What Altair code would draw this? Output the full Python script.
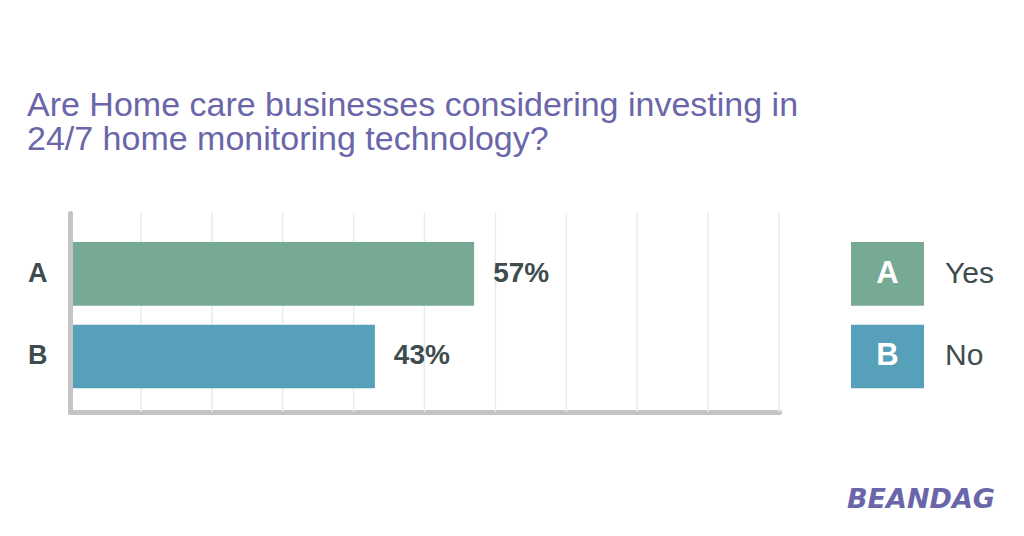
import altair as alt
import pandas as pd

# ---- data ----
categories = ["A", "B"]
answers = ["Yes", "No"]
values = [57, 43]
value_labels = ["57%", "43%"]
bar_colors = ["#76aa94", "#56a0ba"]
grid_ticks = [10, 20, 30, 40, 50, 60, 70, 80, 90, 100]
title_lines = [
    "Are Home care businesses considering investing in",
    "24/7 home monitoring technology?",
]
logo_text = ["BEANDAG"]

TEXT = "#3e4c4e"
PURPLE = "#6a66a9"
AXIS = "#c4c4c4"
GRID = "#e6ebf0"
FONT = "Liberation Sans"

df = pd.DataFrame({
    "category": categories,
    "answer": answers,
    "value": values,
    "label": value_labels,
})
grid_df = pd.DataFrame({"value": grid_ticks})
logo_df = pd.DataFrame({"logo": logo_text})

x_enc = alt.X(
    "value:Q",
    scale=alt.Scale(domain=[0, 100], nice=False),
    axis=alt.Axis(
        title=None, labels=False, ticks=False, grid=False,
        domainColor=AXIS, domainWidth=5, domainCap="round",
    ),
)
y_enc = alt.Y(
    "category:N",
    sort=categories,
    scale=alt.Scale(paddingInner=0.23, paddingOuter=0.32, align=0.55),
    axis=alt.Axis(
        title=None, labelFontSize=27, labelFont=FONT, labelFontWeight="bold",
        labelColor=TEXT, ticks=False, tickSize=0, labelPadding=23,
        domainColor=AXIS, domainWidth=5, domainCap="round", grid=False, zindex=1,
    ),
)
color_enc = alt.Color(
    "category:N", scale=alt.Scale(domain=categories, range=bar_colors), legend=None
)

base = alt.Chart(df)

gridlines = alt.Chart(grid_df).mark_rule(color=GRID, strokeWidth=1.5).encode(x=x_enc)

bars = base.mark_bar().encode(x=x_enc, y=y_enc, color=color_enc)

bar_text = base.mark_text(
    align="left", baseline="middle", dx=19, fontSize=28, fontWeight="bold",
    font=FONT, color=TEXT,
).encode(x=x_enc, y=y_enc, text="label:N")

legend_boxes = base.mark_bar().encode(
    x=alt.value(781), x2=alt.value(854), y=y_enc, color=color_enc
)
legend_letters = base.mark_text(
    align="center", baseline="middle", fontSize=31, fontWeight="bold",
    font=FONT, color="white",
).encode(x=alt.value(817.5), y=y_enc, text="category:N")
legend_answers = base.mark_text(
    align="left", baseline="middle", fontSize=30, font=FONT, color=TEXT,
).encode(x=alt.value(875), y=y_enc, text="answer:N")

logo = alt.Chart(logo_df).mark_text(
    align="center", baseline="middle", fontSize=27, font="DejaVu Sans",
    fontWeight="bold", fontStyle="italic", color=PURPLE,
).encode(x=alt.value(851), y=alt.value(287), text="logo:N")

chart = alt.layer(
    gridlines, bars, bar_text, legend_boxes, legend_letters, legend_answers, logo
).properties(
    width=709,
    height=199,
    autosize="none",
    background="white",
    padding={"left": 62, "top": 205, "right": 237, "bottom": 116},
    title=alt.Title(
        title_lines, anchor="start", frame="group", dx=-43, fontSize=34,
        font=FONT, fontWeight="normal", color=PURPLE, lineHeight=34,
        baseline="bottom", offset=21,
    ),
).configure_view(stroke="transparent", strokeWidth=0)

chart.save("out.html", embed_options={"renderer": "svg", "actions": False})
